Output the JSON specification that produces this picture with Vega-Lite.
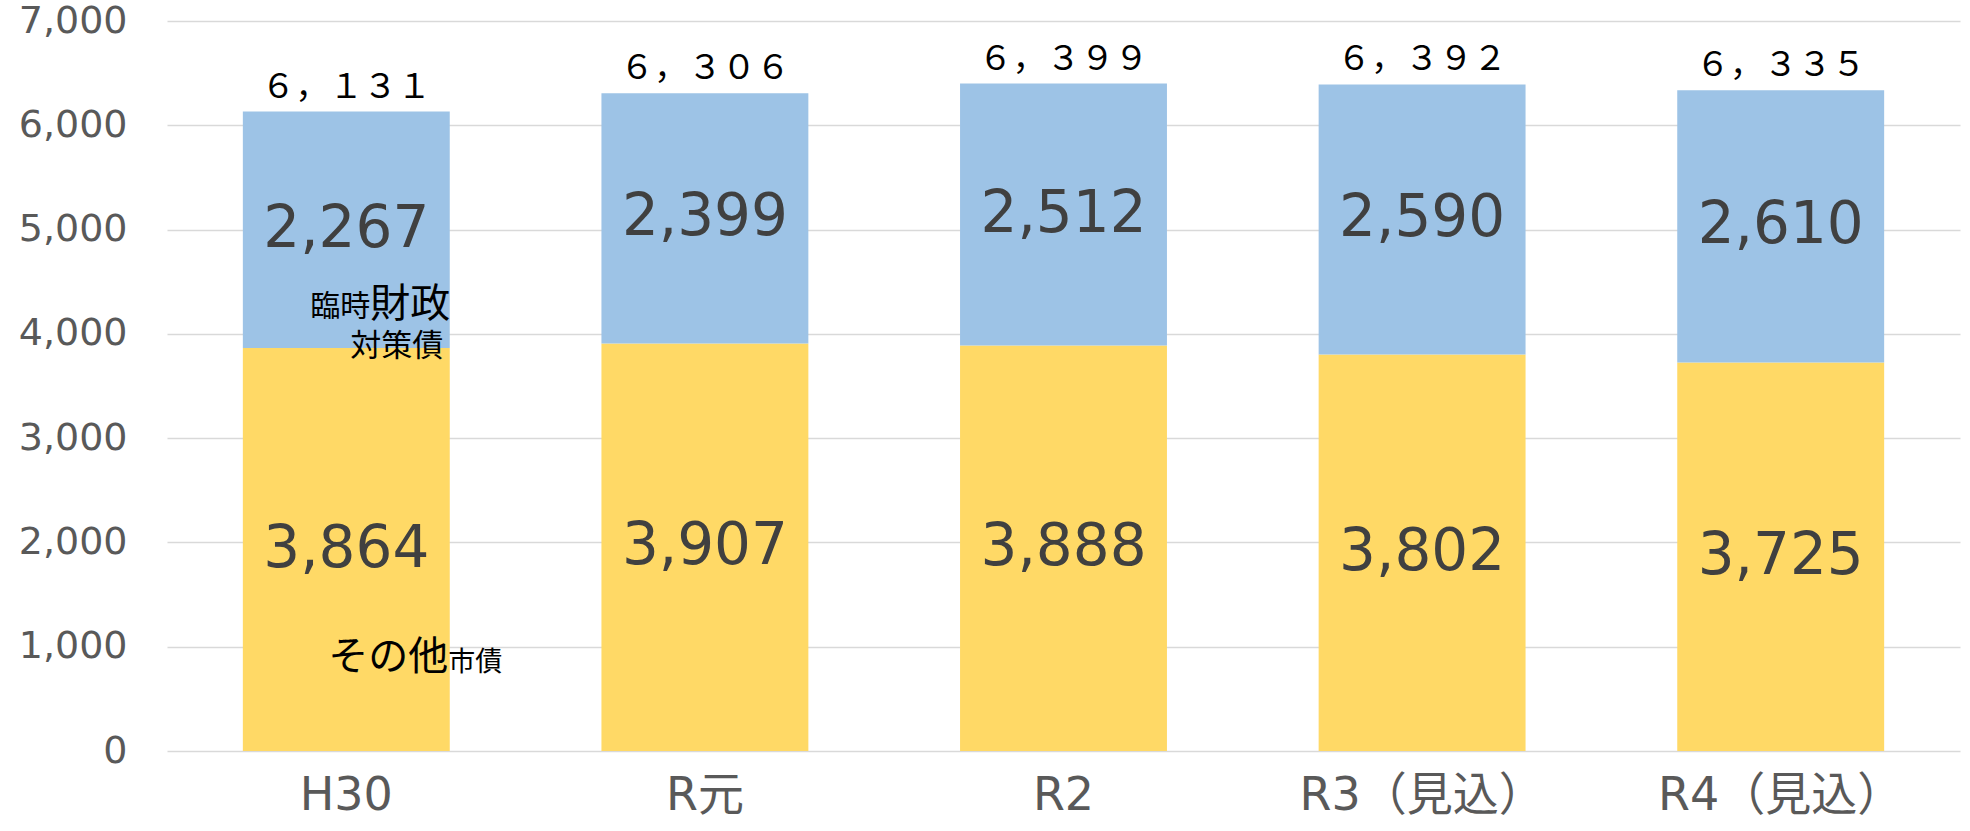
{
  "$schema": "https://vega.github.io/schema/vega-lite/v6.json",
  "width": 1793,
  "height": 730,
  "autosize": {"type": "none"},
  "padding": {"left": 167, "top": 21, "right": 10, "bottom": 80},
  "background": "white",
  "config": {"view": {"stroke": null}},
  "datasets": {
    "bonds": [
      {"year": "H30", "type": "その他市債", "order": 1, "value": 3864},
      {"year": "H30", "type": "臨時財政対策債", "order": 2, "value": 2267},
      {"year": "R元", "type": "その他市債", "order": 1, "value": 3907},
      {"year": "R元", "type": "臨時財政対策債", "order": 2, "value": 2399},
      {"year": "R2", "type": "その他市債", "order": 1, "value": 3888},
      {"year": "R2", "type": "臨時財政対策債", "order": 2, "value": 2512},
      {"year": "R3（見込）", "type": "その他市債", "order": 1, "value": 3802},
      {"year": "R3（見込）", "type": "臨時財政対策債", "order": 2, "value": 2590},
      {"year": "R4（見込）", "type": "その他市債", "order": 1, "value": 3725},
      {"year": "R4（見込）", "type": "臨時財政対策債", "order": 2, "value": 2610}
    ],
    "totals": [
      {"year": "H30", "total": 6131, "label": "６，１３１"},
      {"year": "R元", "total": 6306, "label": "６，３０６"},
      {"year": "R2", "total": 6399, "label": "６，３９９"},
      {"year": "R3（見込）", "total": 6392, "label": "６，３９２"},
      {"year": "R4（見込）", "total": 6335, "label": "６，３３５"}
    ],
    "notes": [
      {"year": "H30", "value": 4262, "note": "臨時"},
      {"year": "H30", "value": 4277, "note": "財政"},
      {"year": "H30", "value": 3874, "note": "対策債"},
      {"year": "H30", "value": 892, "note": "その他"},
      {"year": "H30", "value": 844, "note": "市債"}
    ]
  },
  "encoding": {
    "x": {
      "field": "year",
      "type": "nominal",
      "sort": ["H30", "R元", "R2", "R3（見込）", "R4（見込）"],
      "scale": {"paddingInner": 0.423, "paddingOuter": 0.2115},
      "axis": {
        "title": null,
        "labelAngle": 0,
        "domain": false,
        "ticks": false,
        "labelLimit": 0,
        "labelFont": "DejaVu Sans, 'Noto Sans CJK JP'",
        "labelFontSize": 46,
        "labelColor": "#595959",
        "labelPadding": 22
      }
    }
  },
  "layer": [
    {
      "data": {"name": "bonds"},
      "mark": {"type": "bar"},
      "encoding": {
        "y": {
          "field": "value",
          "type": "quantitative",
          "stack": "zero",
          "scale": {"domain": [0, 7000], "nice": false},
          "axis": {
            "title": null,
            "values": [0, 1000, 2000, 3000, 4000, 5000, 6000, 7000],
            "format": ",d",
            "domain": false,
            "ticks": false,
            "grid": true,
            "gridColor": "#D9D9D9",
            "gridWidth": 1.5,
            "labelFont": "DejaVu Sans",
            "labelFontSize": 38,
            "labelColor": "#595959",
            "labelPadding": 40
          }
        },
        "color": {
          "field": "type",
          "type": "nominal",
          "scale": {"domain": ["その他市債", "臨時財政対策債"], "range": ["#FFD966", "#9DC3E6"]},
          "legend": null
        },
        "order": {"field": "order", "type": "quantitative"}
      }
    },
    {
      "data": {"name": "bonds"},
      "transform": [
        {"stack": "value", "groupby": ["year"], "sort": [{"field": "order"}], "as": ["v0", "v1"]},
        {"calculate": "(datum.v0 + datum.v1) / 2", "as": "mid"}
      ],
      "mark": {"type": "text", "font": "DejaVu Sans", "fontSize": 58, "color": "#404040", "baseline": "middle", "align": "center"},
      "encoding": {
        "y": {"field": "mid", "type": "quantitative"},
        "text": {"field": "value", "type": "quantitative", "format": ",d"}
      }
    },
    {
      "data": {"name": "totals"},
      "mark": {"type": "text", "font": "Noto Sans CJK JP", "fontSize": 34, "color": "#000000", "baseline": "alphabetic", "align": "center", "dy": -14},
      "encoding": {
        "y": {"field": "total", "type": "quantitative"},
        "text": {"field": "label"}
      }
    },
    {
      "data": {"name": "notes"},
      "transform": [{"filter": "datum.note === '財政'"}],
      "mark": {"type": "text", "font": "Noto Sans CJK JP", "fontSize": 40, "color": "#000000", "baseline": "middle", "align": "right", "dx": 104},
      "encoding": {"y": {"field": "value", "type": "quantitative"}, "text": {"field": "note"}}
    },
    {
      "data": {"name": "notes"},
      "transform": [{"filter": "datum.note === '臨時'"}],
      "mark": {"type": "text", "font": "Noto Sans CJK JP", "fontSize": 30, "color": "#000000", "baseline": "middle", "align": "right", "dx": 24},
      "encoding": {"y": {"field": "value", "type": "quantitative"}, "text": {"field": "note"}}
    },
    {
      "data": {"name": "notes"},
      "transform": [{"filter": "datum.note === '対策債'"}],
      "mark": {"type": "text", "font": "Noto Sans CJK JP", "fontSize": 31, "color": "#000000", "baseline": "middle", "align": "right", "dx": 97},
      "encoding": {"y": {"field": "value", "type": "quantitative"}, "text": {"field": "note"}}
    },
    {
      "data": {"name": "notes"},
      "transform": [{"filter": "datum.note === 'その他'"}],
      "mark": {"type": "text", "font": "Noto Sans CJK JP", "fontSize": 40, "color": "#000000", "baseline": "middle", "align": "right", "dx": 102},
      "encoding": {"y": {"field": "value", "type": "quantitative"}, "text": {"field": "note"}}
    },
    {
      "data": {"name": "notes"},
      "transform": [{"filter": "datum.note === '市債'"}],
      "mark": {"type": "text", "font": "Noto Sans CJK JP", "fontSize": 27, "color": "#000000", "baseline": "middle", "align": "left", "dx": 102},
      "encoding": {"y": {"field": "value", "type": "quantitative"}, "text": {"field": "note"}}
    }
  ]
}
